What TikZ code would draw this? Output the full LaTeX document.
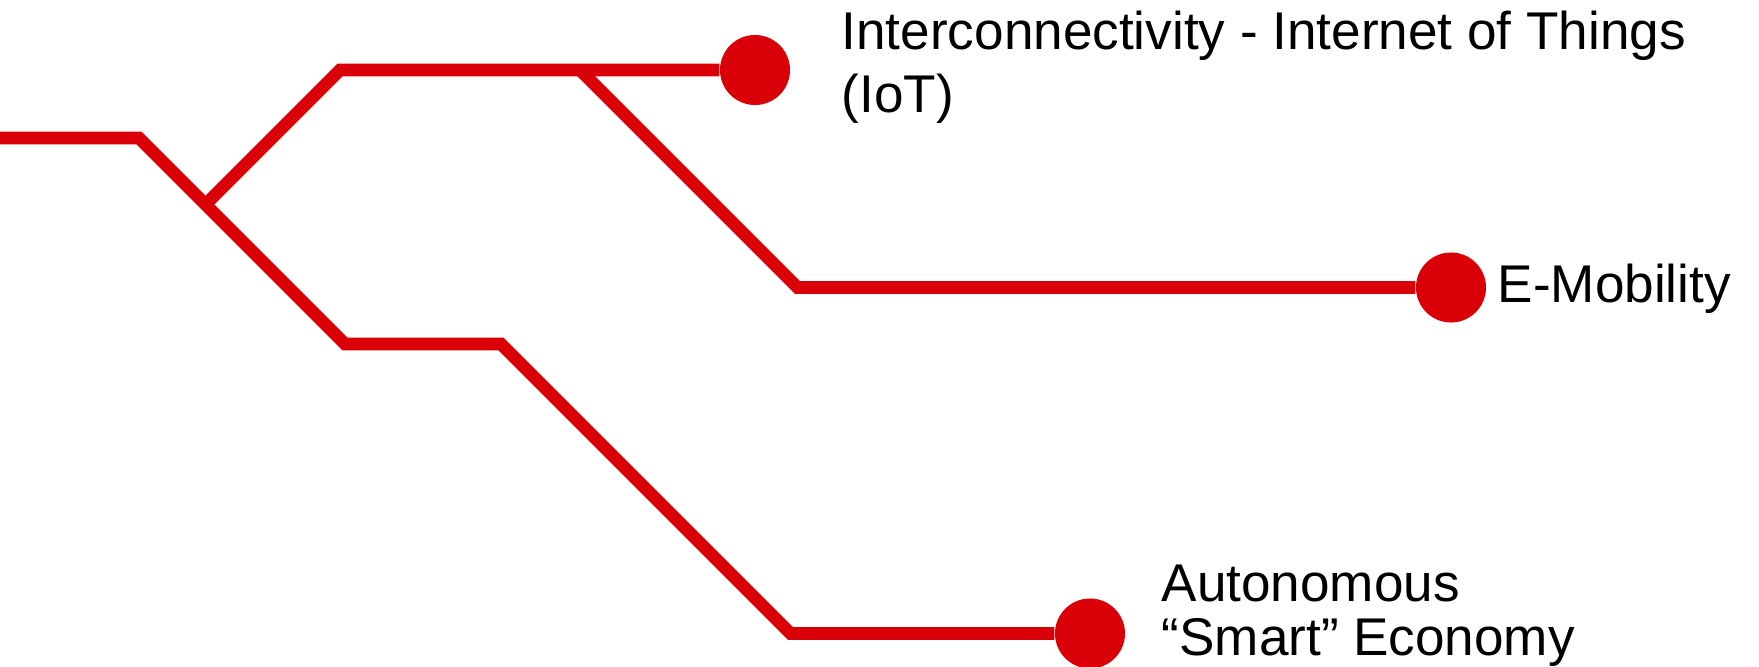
\documentclass[tikz,border=0pt]{standalone}
\usepackage{fontspec}
\setmainfont{Liberation Sans}
\usetikzlibrary{positioning}
\definecolor{trendred}{HTML}{D90008}

\begin{document}
\begin{tikzpicture}[
    x=0.01cm, y=-0.01cm,
    track/.style={draw=trendred, line width=0.125cm},
    endpoint/.style={circle, fill=trendred, minimum size=0.7cm, inner sep=0pt},
    trendtext/.style={anchor=base west, inner sep=0pt, align=left, font=\fontsize{15.1}{18}\selectfont}
    ]
    \useasboundingbox (0,0) rectangle (1759,667);

    % End points
    \node[endpoint] (iot) at (755,70) {};
    \node[endpoint] (emob) at (1451,287.5) {};
    \node[endpoint] (auto) at (1090,633.5) {};

    % Bends of the tracks
    \coordinate (start) at (0,138);
    \coordinate (bend1) at (139,138);
    \coordinate (fork) at (205.5,204.5);
    \coordinate (bendtop) at (340,70);
    \coordinate (split) at (580,70);
    \coordinate (bendemob) at (797.5,287.5);
    \coordinate (bendmid) at (345,344);
    \coordinate (bendmid2) at (501,344);
    \coordinate (bendlow) at (790.5,633.5);

    % Tracks
    \draw[track] (start) -- (bend1) -- (bendmid) -- (bendmid2) -- (bendlow) -- (auto);
    \draw[track] (fork) -- (bendtop) -- (iot);
    \draw[track] (split) -- (bendemob) -- (emob);

    % Labels (base anchor sits on the last line)
    \node[trendtext, font=\fontsize{15.1}{18}\selectfont] (iottext) at (841,113) {Interconnectivity - Internet of Things\\(IoT)};
    \node[trendtext] (emobtext) at (1497,303) {E-Mobility};
    \node[trendtext, font=\fontsize{15.1}{15.6}\selectfont] (autotext) at (1161,656) {Autonomous\\“Smart” Economy};
\end{tikzpicture}
\end{document}
